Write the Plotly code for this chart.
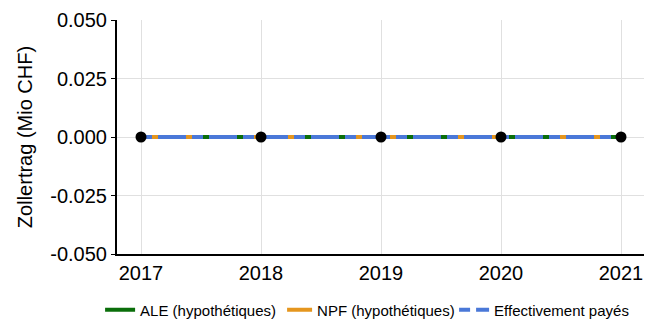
import plotly.graph_objects as go

annees = [2017, 2018, 2019, 2020, 2021]
ale = [0, 0, 0, 0, 0]
npf = [0, 0, 0, 0, 0]
effectif = [0, 0, 0, 0, 0]
noms = ["ALE (hypothétiques)", "NPF (hypothétiques)", "Effectivement payés"]
ytics = [-0.05, -0.025, 0, 0.025, 0.05]
ytexte = ["-0.050", "-0.025", "0.000", "0.025", "0.050"]

fig = go.Figure()
# vert en dessous, orange et bleu en pointillés par-dessus
fig.add_trace(go.Scatter(x=annees, y=ale, mode="lines", name=noms[0],
                         line=dict(color="#0a6e0a", width=4)))
fig.add_trace(go.Scatter(x=annees, y=npf, mode="lines", name=noms[1],
                         line=dict(color="#e5961e", width=4, dash="0px,5px,51px,46px")))
fig.add_trace(go.Scatter(x=annees, y=effectif, mode="lines", name=noms[2],
                         line=dict(color="#4a78d8", width=4, dash="11px,6px,28px,6px")))
fig.add_trace(go.Scatter(x=annees, y=effectif, mode="markers", showlegend=False,
                         marker=dict(color="black", size=11)))

# la page html garde une marge de 8px autour du graphique
fig.update_layout(
    width=644, height=312,
    margin=dict(l=109, r=7, t=12, b=66),
    plot_bgcolor="white", paper_bgcolor="white",
    font=dict(family="Liberation Sans, Arial, sans-serif", color="black"),
    legend=dict(orientation="h", xref="container", yref="container",
                x=0.143, xanchor="left", y=0.032, yanchor="middle",
                font=dict(size=15), entrywidth=132, entrywidthmode="pixels"),
    xaxis=dict(range=[2016.8, 2021.2], tickvals=annees, showgrid=True,
               gridcolor="#e0e0e0", showline=True, linecolor="black", linewidth=2,
               ticks="", tickfont=dict(size=20), zeroline=False, automargin=False),
    yaxis=dict(range=[-0.05, 0.05], tickvals=ytics, ticktext=ytexte, showgrid=True,
               gridcolor="#e0e0e0", showline=True, linecolor="black", linewidth=2,
               ticks="outside", ticklen=4, tickcolor="black", tickfont=dict(size=20),
               title=dict(text="Zollertrag (Mio CHF)", font=dict(size=20), standoff=12),
               zeroline=False, automargin=False),
)

fig.write_html("out.html")
